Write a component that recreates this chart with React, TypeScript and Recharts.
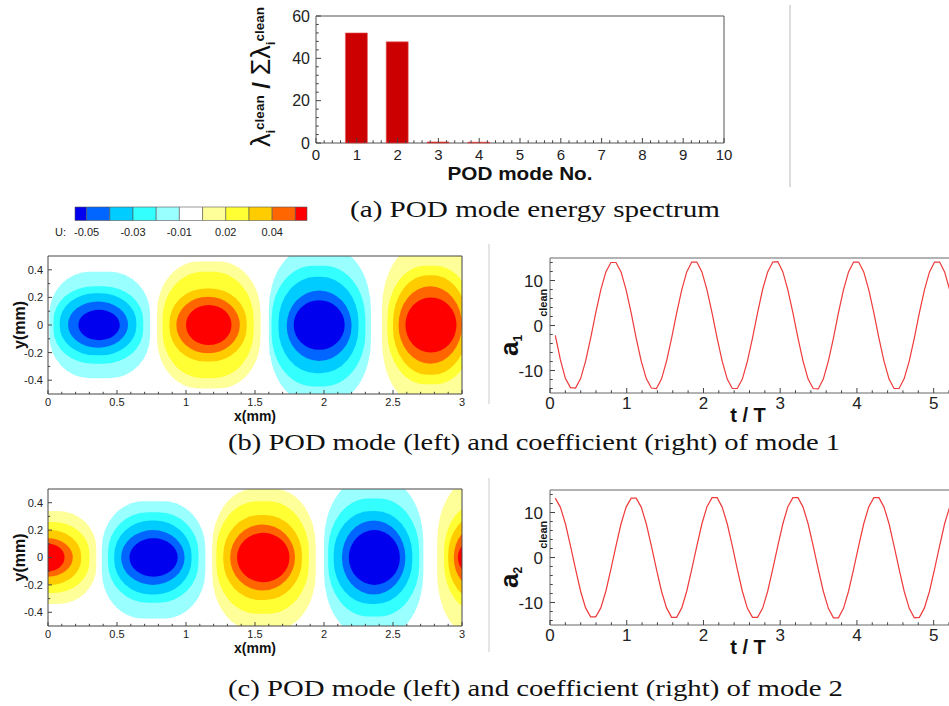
import React from 'react';
import {
  BarChart, Bar, XAxis, YAxis, ComposedChart, LineChart, Line, ReferenceArea
} from 'recharts';

const FONT = '"Liberation Sans", Arial, sans-serif';
const SERIF = '"Liberation Serif", "Times New Roman", serif';

// (a) POD mode energy spectrum
const modeNumbers = [1, 2, 3, 4, 5, 6, 7, 8, 9, 10];
const energyShare = [52.0, 47.8, 0.5, 0.4, 0, 0, 0, 0, 0, 0];
const spectrumXTicks = [0, 1, 2, 3, 4, 5, 6, 7, 8, 9, 10];
const spectrumYTicks = [0, 20, 40, 60];

// contour legend (U levels)
const levelColors = ['#0000ee', '#0066ff', '#00ccff', '#33ffff', '#99ffff', '#ffffff',
  '#ffff99', '#ffff33', '#ffcc00', '#ff6600', '#ff0000'];
const levelSpans = [0.5, 1, 1, 1, 1, 1, 1, 1, 1, 1, 0.5];
const legendTickPos = [0.5, 2.5, 4.5, 6.5, 8.5];
const legendTickLabels = ['-0.05', '-0.03', '-0.01', '0.02', '0.04'];

// contour bands in data units: [level, x1, x2, y1, y2]; level -5..-1 negative U, 1..5 positive U
const mode1Bands: number[][] = [
  [-1, 0.01, 0.74, -0.385, 0.385], [-2, 0.04, 0.69, -0.28, 0.28], [-3, 0.085, 0.64, -0.22, 0.23],
  [-4, 0.145, 0.58, -0.165, 0.17], [-5, 0.22, 0.52, -0.11, 0.11],
  [1, 0.79, 1.54, -0.46, 0.46], [2, 0.83, 1.49, -0.385, 0.385], [3, 0.88, 1.44, -0.265, 0.265],
  [4, 0.93, 1.39, -0.205, 0.205], [5, 1.0, 1.33, -0.145, 0.145],
  [-1, 1.6, 2.34, -0.56, 0.56], [-2, 1.62, 2.3, -0.445, 0.43], [-3, 1.67, 2.25, -0.35, 0.35],
  [-4, 1.73, 2.2, -0.26, 0.25], [-5, 1.78, 2.15, -0.18, 0.18],
  [1, 2.42, 3.12, -0.58, 0.58], [2, 2.46, 3.08, -0.43, 0.43], [3, 2.5, 3.04, -0.36, 0.36],
  [4, 2.54, 3.0, -0.28, 0.28], [5, 2.59, 2.96, -0.2, 0.2],
];
const mode2Bands: number[][] = [
  [1, -0.35, 0.35, -0.34, 0.34], [2, -0.3, 0.3, -0.26, 0.26], [3, -0.24, 0.24, -0.2, 0.2],
  [4, -0.18, 0.18, -0.14, 0.14], [5, -0.12, 0.12, -0.1, 0.1],
  [-1, 0.39, 1.14, -0.445, 0.41], [-2, 0.435, 1.09, -0.33, 0.33], [-3, 0.48, 1.04, -0.27, 0.27],
  [-4, 0.53, 0.99, -0.2, 0.2], [-5, 0.59, 0.94, -0.14, 0.14],
  [1, 1.19, 1.94, -0.53, 0.5], [2, 1.22, 1.89, -0.41, 0.41], [3, 1.27, 1.84, -0.31, 0.31],
  [4, 1.32, 1.79, -0.24, 0.24], [5, 1.37, 1.75, -0.18, 0.18],
  [-1, 2.0, 2.72, -0.57, 0.57], [-2, 2.03, 2.69, -0.43, 0.43], [-3, 2.07, 2.64, -0.34, 0.34],
  [-4, 2.13, 2.59, -0.27, 0.27], [-5, 2.18, 2.55, -0.2, 0.2],
  [1, 2.82, 3.5, -0.58, 0.58], [2, 2.87, 3.45, -0.4, 0.4], [3, 2.9, 3.4, -0.32, 0.32],
  [4, 2.94, 3.36, -0.25, 0.25], [5, 2.97, 3.3, -0.15, 0.15],
];
const contourXTicks = [0, 0.5, 1, 1.5, 2, 2.5, 3];
const contourYTicks = [-0.4, -0.2, 0, 0.2, 0.4];

// POD coefficients vs t/T
const timeSteps = [
  0.069, 0.135, 0.201, 0.267, 0.333, 0.399, 0.464, 0.530, 0.596, 0.662, 0.728, 0.794, 0.860, 0.926, 0.992, 1.058,
  1.123, 1.189, 1.255, 1.321, 1.387, 1.453, 1.519, 1.585, 1.651, 1.717, 1.782, 1.848, 1.914, 1.980, 2.046, 2.112,
  2.178, 2.244, 2.310, 2.376, 2.441, 2.507, 2.573, 2.639, 2.705, 2.771, 2.837, 2.903, 2.969, 3.035, 3.100, 3.166,
  3.232, 3.298, 3.364, 3.430, 3.496, 3.562, 3.628, 3.694, 3.759, 3.825, 3.891, 3.957, 4.023, 4.089, 4.155, 4.221,
  4.287, 4.353, 4.419, 4.484, 4.550, 4.616, 4.682, 4.748, 4.814, 4.880, 4.946, 5.012, 5.078, 5.143, 5.209, 5.275,
];
const coef1 = [
  -2.2, -7.6, -11.8, -13.8, -13.9, -11.8, -7.9, -2.8, 2.8, 7.9, 11.9, 14.0, 14.0, 11.9, 7.9, 2.8,
  -2.8, -7.9, -11.8, -13.9, -14.0, -11.9, -7.9, -2.8, 2.8, 7.9, 11.9, 14.1, 14.1, 11.9, 7.9, 2.8,
  -2.8, -7.9, -11.9, -14.0, -14.0, -11.9, -7.9, -2.8, 2.8, 8.0, 11.9, 14.1, 14.2, 11.9, 7.9, 2.8,
  -2.8, -7.9, -11.9, -14.0, -14.1, -11.9, -7.9, -2.8, 2.8, 7.9, 11.9, 14.1, 14.1, 11.9, 7.9, 2.8,
  -2.8, -7.9, -11.9, -14.0, -14.0, -11.8, -7.9, -2.8, 2.8, 7.9, 11.9, 14.1, 14.1, 11.9, 7.9, 2.8,
];
const coef2 = [
  13.2, 11.2, 7.5, 2.6, -2.6, -7.5, -11.2, -13.2, -13.2, -11.2, -7.5, -2.6, 2.6, 7.5, 11.2, 13.2,
  13.2, 11.2, 7.5, 2.6, -2.6, -7.5, -11.2, -13.3, -13.3, -11.2, -7.5, -2.6, 2.6, 7.5, 11.3, 13.3,
  13.3, 11.2, 7.5, 2.6, -2.6, -7.5, -11.3, -13.3, -13.3, -11.3, -7.5, -2.6, 2.6, 7.5, 11.3, 13.3,
  13.3, 11.2, 7.5, 2.6, -2.6, -7.5, -11.3, -13.4, -13.4, -11.3, -7.5, -2.6, 2.6, 7.5, 11.3, 13.3,
  13.3, 11.2, 7.5, 2.6, -2.6, -7.5, -11.3, -13.4, -13.3, -11.2, -7.5, -2.6, 2.6, 7.5, 11.2, 13.2,
];
const coefXTicks = [0, 1, 2, 3, 4, 5];
const coefYTicks = [-10, 0, 10];

const steps = (a: number, b: number, s: number) => {
  const out: number[] = [];
  for (let v = a; v <= b + 1e-9; v += s) out.push(Math.round(v * 1000) / 1000);
  return out;
};
const isMajor = (majors: number[], v: number) => majors.some((m) => Math.abs(m - v) < 1e-6);

const BottomTick = (p: any) => {
  const { x, y, payload, majors, fs, dy, len } = p;
  const major = isMajor(majors, payload.value);
  return (
    <g>
      <line x1={x} x2={x} y1={y} y2={y - (major ? len : len * 0.55)} stroke="#444" />
      {major && (
        <text x={x} y={y + dy} textAnchor="middle" fontSize={fs} fontFamily={FONT} fill="#222">
          {payload.value}
        </text>
      )}
    </g>
  );
};

const LeftTick = (p: any) => {
  const { x, y, payload, majors, fs, dx, len } = p;
  const major = isMajor(majors, payload.value);
  return (
    <g>
      <line x1={x} x2={x + (major ? len : len * 0.55)} y1={y} y2={y} stroke="#444" />
      {major && (
        <text x={x - dx} y={y + fs * 0.36} textAnchor="end" fontSize={fs} fontFamily={FONT} fill="#222">
          {payload.value}
        </text>
      )}
    </g>
  );
};

const LegendTick = (p: any) => {
  const { x, y, payload } = p;
  const i = legendTickPos.indexOf(payload.value);
  return (
    <text x={x} y={y + 15} textAnchor="middle" fontSize={11} fontFamily={FONT} fill="#222">
      {legendTickLabels[i]}
    </text>
  );
};

// outer contour bands are squarer, inner ones close to ellipses
const roundness = [0, 0.4, 0.44, 0.47, 0.5, 0.5];

const bandShape = (p: any) => {
  const r = roundness[Math.abs(p.level)];
  return (
    <rect x={p.x} y={p.y} width={p.width} height={p.height}
      rx={Math.abs(p.width) * r} ry={Math.abs(p.height) * r}
      fill={p.fill} clipPath={p.clipPath} />
  );
};

const SpectrumChart = () => {
  const data = modeNumbers.map((m, i) => ({ mode: m, share: energyShare[i] }));
  return (
    <BarChart width={520} height={190} data={data} margin={{ top: 16, right: 26, bottom: 0, left: 0 }}>
      <XAxis dataKey="mode" type="number" domain={[0, 10]} ticks={steps(0, 10, 0.2)} interval={0}
        axisLine={false} tickLine={false} tickSize={0} tickMargin={0} height={47}
        tick={<BottomTick majors={spectrumXTicks} fs={15} dy={17} len={5} />}
        label={{
          content: ({ viewBox }: any) => (
            <text x={viewBox.x + viewBox.width / 2} y={viewBox.y + 37} textAnchor="middle"
              fontSize={18} fontWeight="bold" fontFamily={FONT} fill="#111" textLength={145}
              lengthAdjust="spacingAndGlyphs">POD mode No.</text>
          ),
        }} />
      <YAxis type="number" domain={[0, 60]} ticks={steps(0, 60, 4)} interval={0} width={86}
        axisLine={false} tickLine={false} tickSize={0} tickMargin={0}
        tick={<LeftTick majors={spectrumYTicks} fs={16} dx={6} len={5} />}
        label={{
          content: ({ viewBox }: any) => {
            const cx = viewBox.x + 40;
            const cy = 77;
            return (
              <text transform={`rotate(-90 ${cx} ${cy})`} x={cx} y={cy} textAnchor="middle"
                fontFamily={FONT} fill="#111">
                <tspan fontSize={27}>λ</tspan>
                <tspan fontSize={13} fontWeight="bold" dy={5}>i</tspan>
                <tspan fontSize={13.5} fontWeight="bold" dy={-11}>clean</tspan>
                <tspan fontSize={24} fontWeight="bold" dy={6}> / </tspan>
                <tspan fontSize={27}>Σλ</tspan>
                <tspan fontSize={13} fontWeight="bold" dy={5}>i</tspan>
                <tspan fontSize={13.5} fontWeight="bold" dy={-11}>clean</tspan>
              </text>
            );
          },
        }} />
      <Bar dataKey="share" fill="#cc0000" stroke="#e06060" strokeWidth={0.6} barSize={22}
        isAnimationActive={false} />
      <ReferenceArea x1={0} x2={10} y1={0} y2={60} fill="none" stroke="#555" ifOverflow="visible" />
    </BarChart>
  );
};

const LegendBar = () => {
  const row: any = { name: 'U' };
  levelSpans.forEach((s, i) => { row[`s${i}`] = s; });
  return (
    <BarChart width={280} height={50} data={[row]} layout="vertical" barCategoryGap={0}
      margin={{ top: 10, right: 13, bottom: 0, left: 35 }}>
      <XAxis type="number" domain={[0, 10]} ticks={legendTickPos} interval={0} height={25}
        axisLine={false} tickLine={false} tickSize={0} tickMargin={0} tick={<LegendTick />}
        label={{
          content: ({ viewBox }: any) => (
            <text x={viewBox.x - 9} y={viewBox.y + 15} textAnchor="end" fontSize={11}
              fontFamily={FONT} fill="#222">U:</text>
          ),
        }} />
      <YAxis type="category" dataKey="name" hide />
      {levelColors.map((c, i) => (
        <Bar key={i} dataKey={`s${i}`} stackId="lv" fill={c} stroke="#555" strokeWidth={0.6}
          barSize={15} isAnimationActive={false} />
      ))}
    </BarChart>
  );
};

const ContourChart = ({ bands, height }: { bands: number[][]; height: number }) => (
  <ComposedChart width={480} height={height} data={[]} margin={{ top: 10, right: 18, bottom: 0, left: 0 }}>
    <XAxis type="number" dataKey="x" domain={[0, 3]} allowDataOverflow ticks={steps(0, 3, 0.1)} interval={0}
      axisLine={false} tickLine={false} tickSize={0} tickMargin={0} height={32}
      tick={<BottomTick majors={contourXTicks} fs={11} dy={12} len={4} />}
      label={{
        content: ({ viewBox }: any) => (
          <text x={viewBox.x + viewBox.width / 2} y={viewBox.y + 27} textAnchor="middle" fontSize={14}
            fontWeight="bold" fontFamily={FONT} fill="#111">x(mm)</text>
        ),
      }} />
    <YAxis type="number" domain={[-0.5, 0.5]} allowDataOverflow ticks={steps(-0.4, 0.4, 0.1)} interval={0}
      width={48} axisLine={false} tickLine={false} tickSize={0} tickMargin={0}
      tick={<LeftTick majors={contourYTicks} fs={11} dx={5} len={4} />}
      label={{
        content: ({ viewBox }: any) => {
          const cx = viewBox.x + 25;
          const cy = viewBox.y + viewBox.height / 2;
          return (
            <text transform={`rotate(-90 ${cx} ${cy})`} x={cx} y={cy} textAnchor="middle" fontSize={16}
              fontWeight="bold" fontFamily={FONT} fill="#111">y(mm)</text>
          );
        },
      }} />
    {bands.map((b, i) => (
      <ReferenceArea key={i} x1={b[1]} x2={b[2]} y1={b[3]} y2={b[4]} fill={levelColors[b[0] + 5]}
        fillOpacity={1} ifOverflow="hidden" shape={(p: any) => bandShape({ ...p, level: b[0] })} />
    ))}
    <ReferenceArea x1={0} x2={3} y1={-0.5} y2={0.5} fill="none" stroke="#444" ifOverflow="visible" />
  </ComposedChart>
);

const CoefChart = ({ values, idx }: { values: number[]; idx: string }) => {
  const data = timeSteps.map((t, i) => ({ t, a: values[i] }));
  return (
    <LineChart width={492} height={180} data={data} margin={{ top: 10, right: 10, bottom: 0, left: 0 }}>
      <XAxis type="number" dataKey="t" domain={[0, 5.5]} allowDataOverflow ticks={steps(0, 5.4, 0.2)}
        interval={0} axisLine={false} tickLine={false} tickSize={0} tickMargin={0} height={35}
        tick={<BottomTick majors={coefXTicks} fs={17} dy={16} len={5} />}
        label={{
          content: ({ viewBox }: any) => (
            <text x={viewBox.x + 198} y={viewBox.y + 29} textAnchor="middle" fontSize={20}
              fontWeight="bold" fontFamily={FONT} fill="#111">t / T</text>
          ),
        }} />
      <YAxis type="number" domain={[-15, 15]} allowDataOverflow ticks={steps(-14, 14, 2)} interval={0}
        width={60} axisLine={false} tickLine={false} tickSize={0} tickMargin={0}
        tick={<LeftTick majors={coefYTicks} fs={17} dx={7} len={5} />}
        label={{
          content: ({ viewBox }: any) => {
            const bx = viewBox.x + 28;
            const sy = viewBox.y + 98;
            return (
              <text transform={`rotate(-90 ${bx} ${sy})`} x={bx} y={sy} textAnchor="start"
                fontFamily={FONT} fontWeight="bold" fill="#111">
                <tspan fontSize={26}>a</tspan>
                <tspan fontSize={12} dy={4}>{idx}</tspan>
                <tspan fontSize={11} dx={18} dy={25}>clean</tspan>
              </text>
            );
          },
        }} />
      <Line type="linear" dataKey="a" stroke="#ee3a3a" strokeWidth={1.2} dot={false}
        isAnimationActive={false} />
      <ReferenceArea x1={0} x2={5.5} y1={-15} y2={15} fill="none" stroke="#666" ifOverflow="visible" />
    </LineChart>
  );
};

const Caption = ({ x, y, w, children }: { x: number; y: number; w: number; children: string }) => (
  <text x={x} y={y} fontSize={24} fontFamily={SERIF} fill="#111" textLength={w}
    lengthAdjust="spacingAndGlyphs">{children}</text>
);

export default function App() {
  return (
    <div style={{ position: 'fixed', left: 0, top: 0, width: 949, height: 706, overflow: 'hidden',
      background: '#fff' }}>
      <div style={{ position: 'absolute', left: 230, top: 0 }}><SpectrumChart /></div>
      <div style={{ position: 'absolute', left: 40, top: 196 }}><LegendBar /></div>
      <div style={{ position: 'absolute', left: 0, top: 246 }}><ContourChart bands={mode1Bands} height={180} /></div>
      <div style={{ position: 'absolute', left: 490, top: 248 }}><CoefChart values={coef1} idx="1" /></div>
      <div style={{ position: 'absolute', left: 0, top: 479 }}><ContourChart bands={mode2Bands} height={179} /></div>
      <div style={{ position: 'absolute', left: 490, top: 480 }}><CoefChart values={coef2} idx="2" /></div>
      <svg width={949} height={706} style={{ position: 'absolute', left: 0, top: 0, pointerEvents: 'none' }}>
        <line x1={790} x2={790} y1={5} y2={187} stroke="#bbb" />
        <line x1={489} x2={489} y1={244} y2={404} stroke="#ccc" />
        <line x1={489} x2={489} y1={478} y2={652} stroke="#ccc" />
        <Caption x={350} y={217} w={370}>(a) POD mode energy spectrum</Caption>
        <Caption x={228} y={450} w={612}>(b) POD mode (left) and coefficient (right) of mode 1</Caption>
        <Caption x={228} y={696} w={615}>(c) POD mode (left) and coefficient (right) of mode 2</Caption>
      </svg>
    </div>
  );
}
